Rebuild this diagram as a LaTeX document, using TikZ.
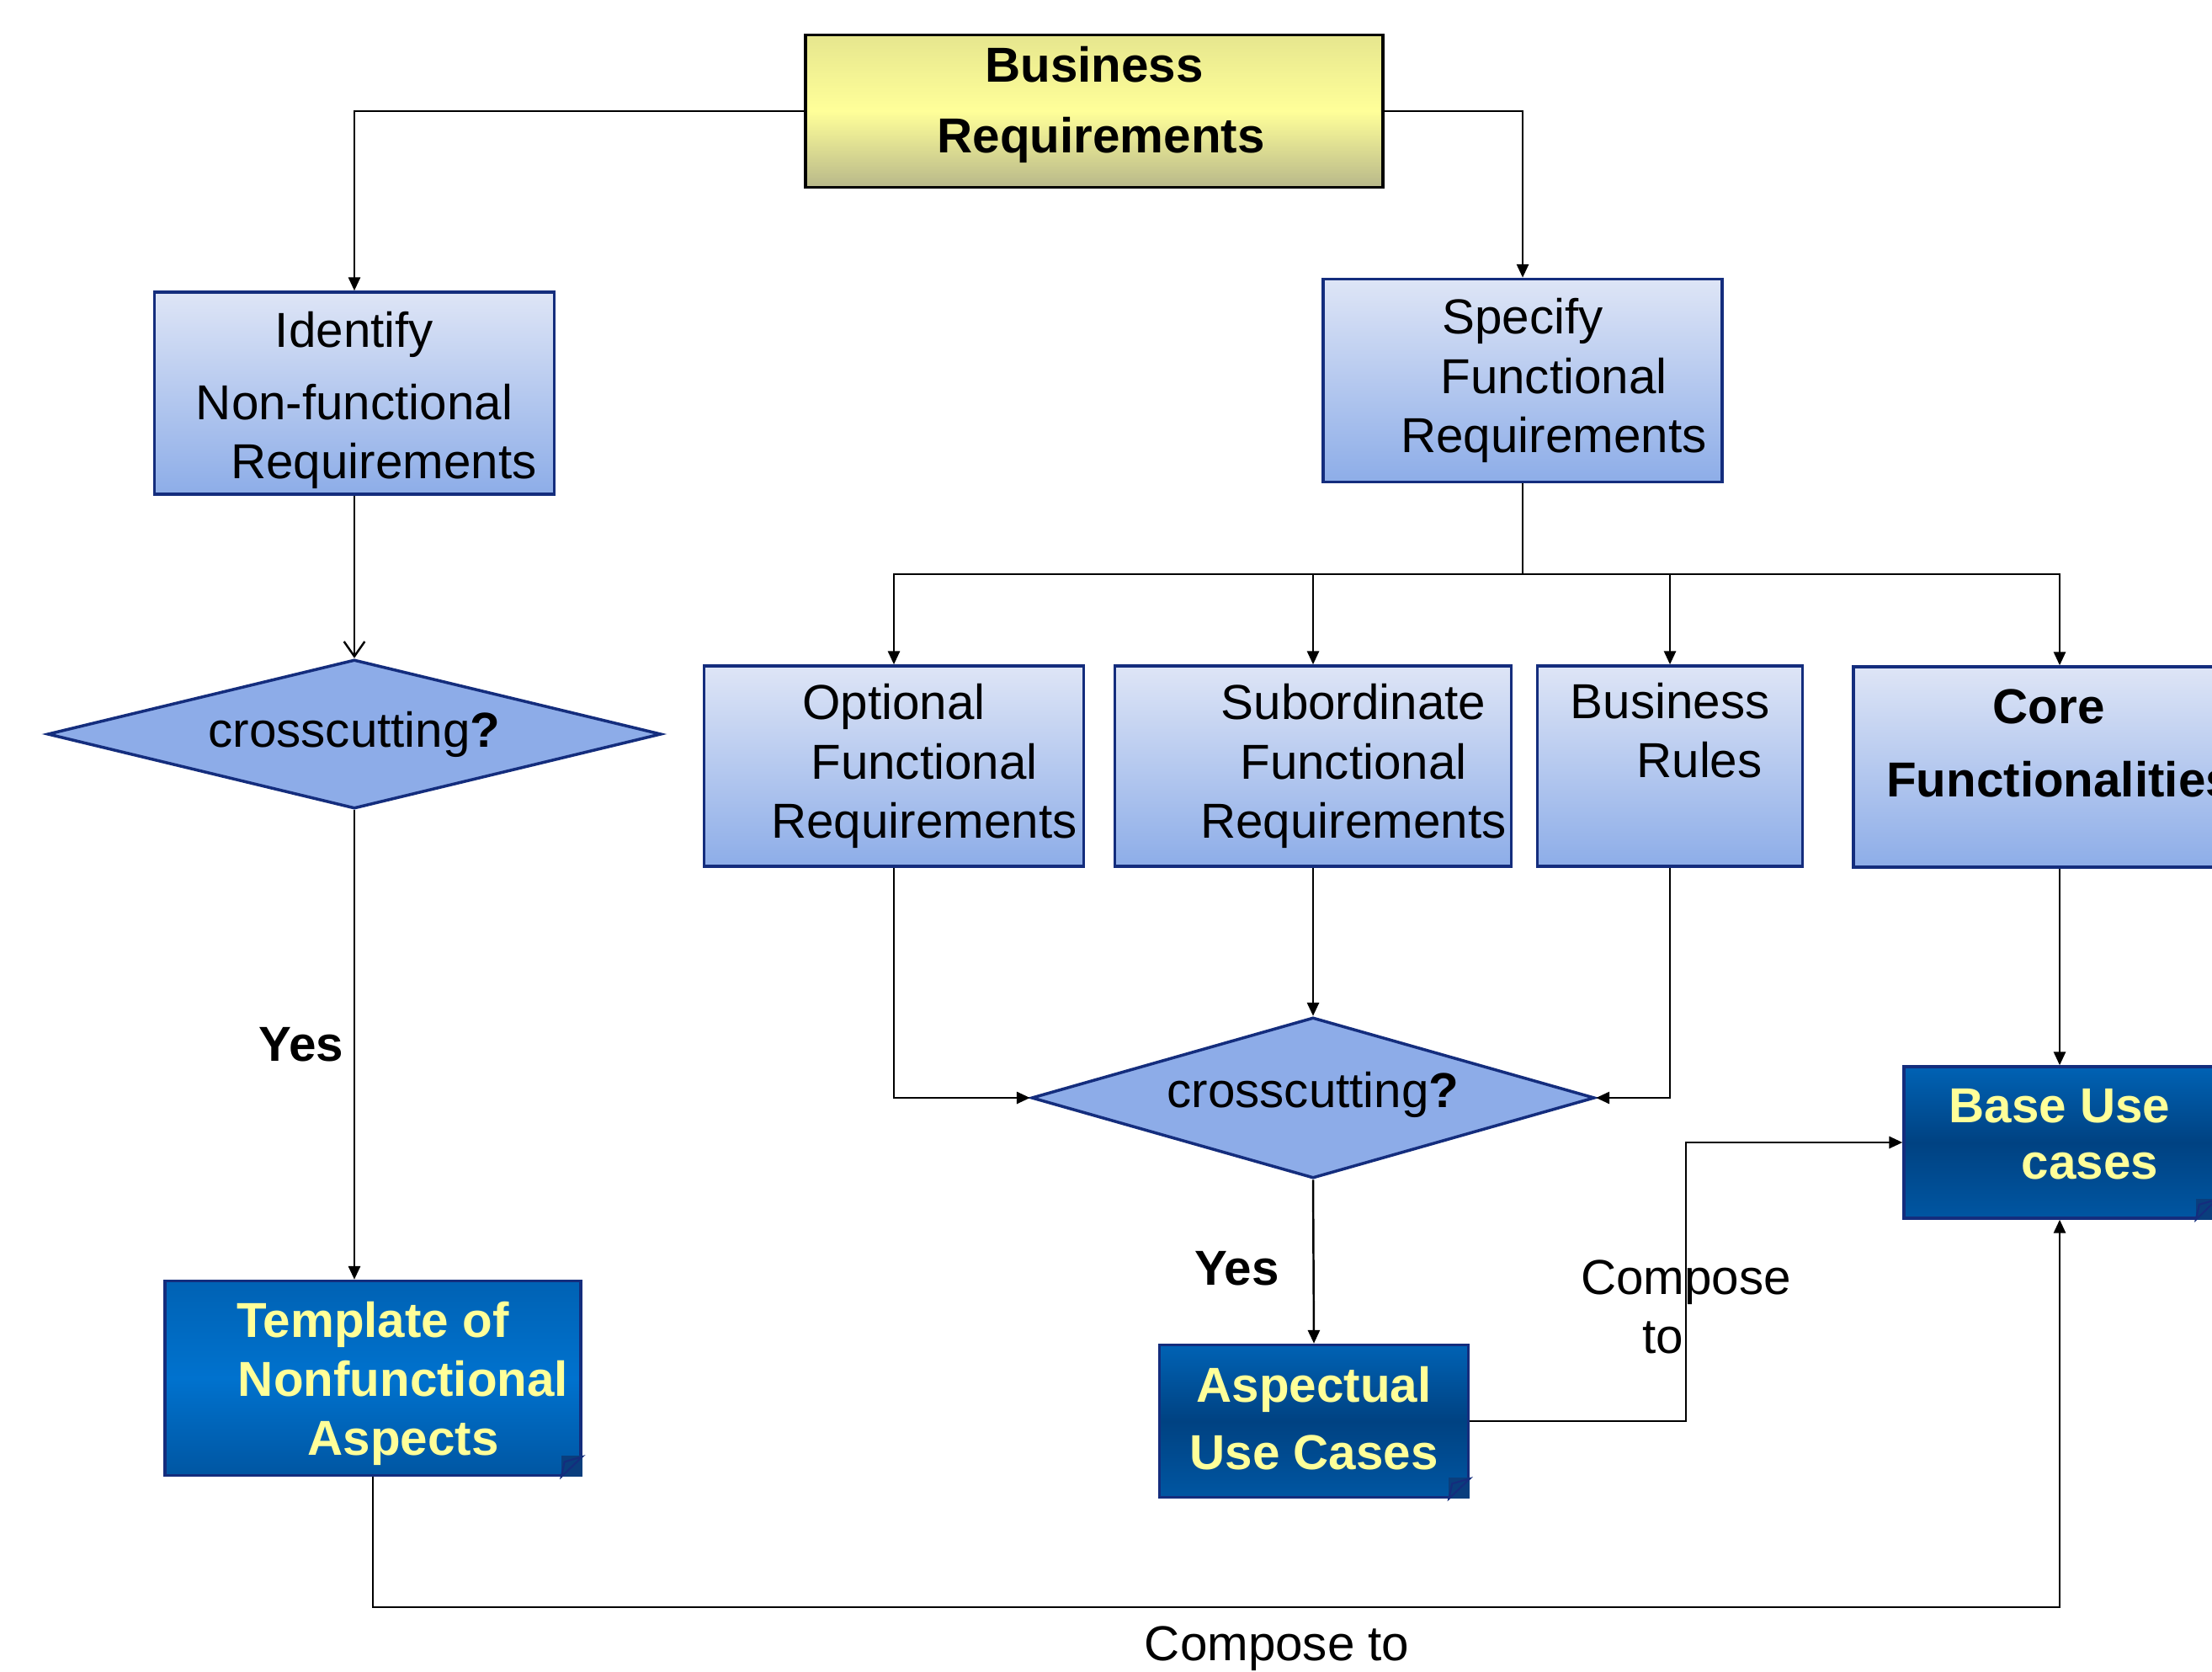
\documentclass[tikz,border=0pt]{standalone}
\usepackage{fontspec}
\setmainfont{Liberation Sans}
\usetikzlibrary{shapes.geometric}
\usetikzlibrary{arrows.meta}

\definecolor{boxline}{RGB}{20,45,125}
\definecolor{lighttop}{RGB}{222,229,246}
\definecolor{lightbot}{RGB}{141,173,232}
\definecolor{diafill}{RGB}{141,172,232}
\definecolor{darktop}{RGB}{0,98,180}
\definecolor{darkmid}{RGB}{0,66,130}
\definecolor{darkbot}{RGB}{0,86,162}
\definecolor{tmplmid}{RGB}{0,114,206}
\definecolor{txtyellow}{RGB}{255,255,153}
\definecolor{yeltop}{RGB}{230,230,142}
\definecolor{yelmid}{RGB}{255,255,153}
\definecolor{yelbot}{RGB}{184,184,138}
\definecolor{foldfill}{RGB}{10,62,125}

% folded corner of the output boxes
\newcommand{\dogear}[1]{%
  \fill[foldfill] ([xshift=-0.25cm]#1.south east) rectangle ([yshift=0.25cm]#1.south east);
  \draw[boxline, line width=0.6pt] ([xshift=-0.25cm]#1.south east) -- ([shift={(-0.21cm,0.18cm)}]#1.south east) -- ([yshift=0.24cm]#1.south east) -- cycle;}

\begin{document}
\begin{tikzpicture}[
	font=\fontsize{16.6}{20}\selectfont,
	>={Triangle[length=4.5pt,width=4pt]},
	conn/.style={draw, line width=0.7pt, ->},
	reqbox/.style={draw=boxline, line width=1pt, top color=lighttop, bottom color=lightbot, align=center, inner sep=0pt},
	decide/.style={diamond, draw=boxline, line width=1pt, fill=diafill, inner sep=0pt},
	outbox/.style={draw=boxline, line width=1pt, top color=darktop, bottom color=darkbot, middle color=darkmid, text=txtyellow, font=\fontsize{16.6}{20}\selectfont\bfseries, align=center, inner sep=0pt},
	goalbox/.style={draw=black, line width=1pt, top color=yeltop, bottom color=yelbot, middle color=yelmid, font=\fontsize{16.6}{20}\selectfont\bfseries, align=center, inner sep=0pt},
	]
	\path[use as bounding box, fill=white] (0,0) rectangle (26.28,19.85);
	\clip (0,0) rectangle (26.28,19.85);

	% boxes
	\node[goalbox, minimum width=6.86cm, minimum height=1.81cm] (busreq) at (13.00,18.53) {Business\\[0.14cm]\hspace*{0.16cm}Requirements\rule[-0.27cm]{0pt}{0pt}};
	\node[reqbox, minimum width=4.75cm, minimum height=2.40cm] (nonfunc) at (4.21,15.18) {\rule{0pt}{0.59cm}Identify\\[0.16cm]Non-functional\\\hspace*{0.70cm}Requirements};
	\node[reqbox, minimum width=4.74cm, minimum height=2.41cm] (func) at (18.09,15.33) {Specify\\\hspace*{0.74cm}Functional\\\hspace*{0.74cm}Requirements};
	\node[decide, aspect=4.12, minimum width=7.29cm, minimum height=1.77cm] (cross1) at (4.21,11.13) {crosscutting\textbf{?}\rule[-0.1cm]{0pt}{0pt}};
	\node[outbox, middle color=tmplmid, minimum width=4.94cm, minimum height=2.31cm] (tmpl) at (4.43,3.48) {\rule{0pt}{0.55cm}Template of\\\hspace*{0.72cm}Nonfunctional\\\hspace*{0.72cm}Aspects};

	\node[reqbox, minimum width=4.51cm, minimum height=2.38cm] (optfr) at (10.62,10.75) {Optional\\\hspace*{0.72cm}Functional\\\hspace*{0.72cm}Requirements};
	\node[reqbox, minimum width=4.71cm, minimum height=2.38cm] (subfr) at (15.60,10.75) {\hspace*{0.96cm}Subordinate\\\hspace*{0.96cm}Functional\\\hspace*{0.96cm}Requirements};
	\node[reqbox, minimum width=3.15cm, minimum height=2.38cm] (brules) at (19.84,10.75) {Business\\\hspace*{0.70cm}Rules\\\mbox{}\rule[-0.15cm]{0pt}{0pt}};
	\node[reqbox, font=\fontsize{16.6}{20}\selectfont\bfseries, minimum width=4.90cm, minimum height=2.38cm] (core) at (24.47,10.74) {\rule{0pt}{0.54cm}Core\hspace*{0.26cm}\\[0.17cm]Functionalities\hspace*{0.26cm}\\\mbox{}};
	\node[decide, aspect=3.5, minimum width=6.69cm, minimum height=1.91cm] (cross2) at (15.60,6.81) {crosscutting\textbf{?}\rule[-0.2cm]{0pt}{0pt}};
	\node[outbox, minimum width=3.67cm, minimum height=1.81cm] (asp) at (15.61,2.97) {Aspectual\\[0.10cm]Use Cases\rule[-0.08cm]{0pt}{0pt}};
	\node[outbox, minimum width=3.70cm, minimum height=1.80cm] (base) at (24.47,6.28) {Base Use\\[-0.03cm]\hspace*{0.72cm}cases\rule[-0.2cm]{0pt}{0pt}};
	\dogear{tmpl}
	\dogear{asp}
	\dogear{base}

	\coordinate (fbus) at (18.09,13.03);
	\coordinate (cbot) at (4.43,0.76);
	\coordinate (cjog) at (20.03,2.97);

	% connectors
	\draw[conn] (busreq.west) -| (nonfunc.north);
	\draw[conn] (busreq.east) -| (func.north);
	\draw[line width=0.7pt, -{Straight Barb[length=5pt,width=7pt]}] (nonfunc.south) -- (cross1.north);
	\draw[conn] (cross1.south) -- node[left, font=\fontsize{16.6}{20}\selectfont\bfseries] (yes1) {Yes} (cross1.south |- tmpl.north);

	\draw[line width=0.7pt] (func.south) -- (fbus);
	\draw[conn] (fbus) -| (optfr.north);
	\draw[conn] (fbus) -| (subfr.north);
	\draw[conn] (fbus) -| (brules.north);
	\draw[conn] (fbus) -| (core.north);

	\draw[conn] (optfr.south) |- (cross2.west);
	\draw[conn] (subfr.south) -- (cross2.north);
	\draw[conn] (brules.south) |- (cross2.east);
	\draw[conn] (cross2.south) -- node[pos=0.54, left=2.8mm, font=\fontsize{16.6}{20}\selectfont\bfseries] (yes2) {Yes} (asp.north);
	\draw[conn] (core.south) -- (base.north);

	\draw[conn] (asp.east) -- (cjog) |- node[pos=0.205, align=center] (compmid) {Compose\\to\hspace*{0.54cm}} (base.west);
	\draw[conn] (tmpl.south) -- (cbot) -| node[pos=0.268, below, yshift=-0.1cm] (compbot) {Compose to} (base.south);
\end{tikzpicture}
\end{document}
